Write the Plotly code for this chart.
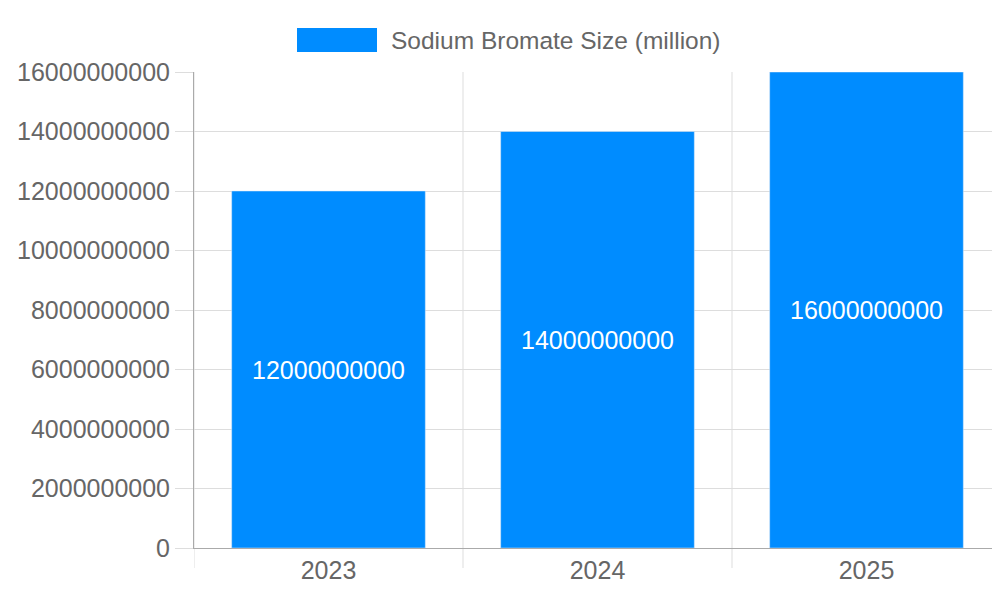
import plotly.graph_objects as go

years = ["2023", "2024", "2025"]
values = [12000000000, 14000000000, 16000000000]
series_name = "Sodium Bromate Size (million)"
y_ticks = [0, 2000000000, 4000000000, 6000000000, 8000000000, 10000000000, 12000000000, 14000000000, 16000000000]

fig = go.Figure(go.Bar(
    x=years, y=values, name=series_name, marker_color="#008cff",
    text=[str(v) for v in values], textposition="inside", insidetextanchor="middle",
    textfont=dict(color="white", size=25), width=0.72, showlegend=False,
))

shapes = []
for i in range(len(years) + 1):
    shapes.append(dict(type="line", xref="x", yref="paper", x0=i - 0.5, x1=i - 0.5,
                       y0=-0.042, y1=1, line=dict(color="#dddddd", width=1), layer="below"))
# legend swatch (pixel-placed via paper coords)
pw, ph = 807, 476
shapes.append(dict(type="rect", xref="paper", yref="paper",
                   x0=(289 - 186) / pw, x1=(369 - 186) / pw,
                   y0=1 + (64 - 44) / ph, y1=1 + (64 - 20) / ph,
                   fillcolor="#008cff", line=dict(width=0)))

fig.update_layout(
    width=1000, height=600, plot_bgcolor="white", paper_bgcolor="white",
    margin=dict(l=186, r=7, t=64, b=60, autoexpand=False),
    font=dict(family="Liberation Sans, Arial", color="#666666", size=25),
    showlegend=False,
    annotations=[dict(text=series_name, xref="paper", yref="paper",
                      x=(381 - 186) / pw, y=1 + (64 - 32) / ph, xanchor="left", yanchor="middle",
                      showarrow=False, font=dict(size=24.5, color="#666666"))],
    shapes=shapes, bargap=0.28,
    xaxis=dict(showgrid=False, showline=True, linecolor="#aaaaaa", ticks="", range=[-0.5, 2.5],
               automargin=False),
    yaxis=dict(range=[0, 16000000000], tickvals=y_ticks, ticktext=[str(v) for v in y_ticks],
               showgrid=True, gridcolor="#dddddd", showline=True, linecolor="#aaaaaa",
               ticks="outside", ticklen=18, tickcolor="#dddddd", zeroline=False,
               automargin=False),
)
fig.write_html("out.html")
